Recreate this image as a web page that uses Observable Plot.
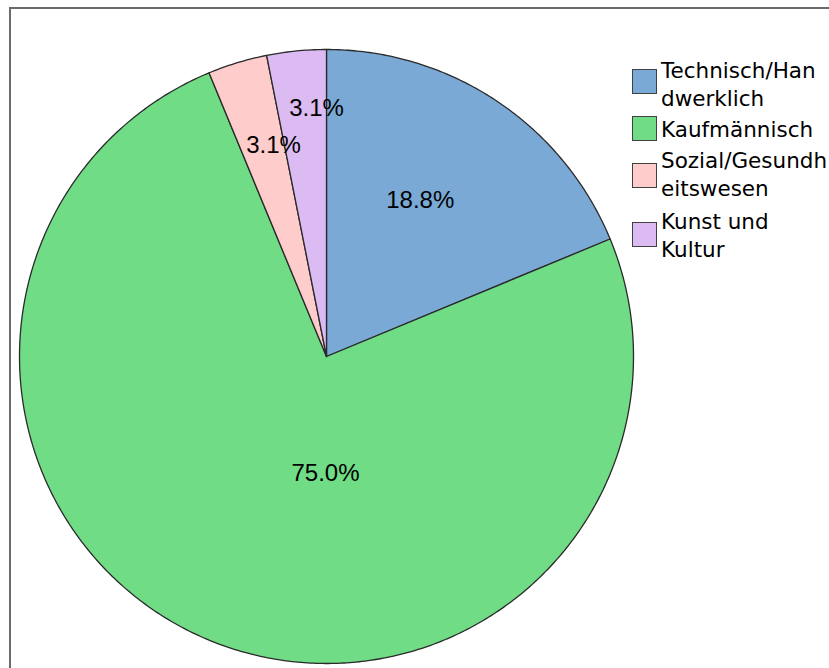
<!DOCTYPE html>
<html>
<head>
<meta charset="utf-8">
<script src="https://cdn.jsdelivr.net/npm/d3@7"></script>
<script src="https://cdn.jsdelivr.net/npm/@observablehq/plot@0.6"></script>
<style>
  html, body { margin: 0; padding: 0; background: #fff; }
  #wrap { position: relative; width: 829px; height: 668px; overflow: hidden; }
  #frame { position: absolute; left: 9px; top: 7px; right: -10px; bottom: -10px;
           border-top: 2px solid #6b6b6b; border-left: 2px solid #6b6b6b; pointer-events: none; }
  #chart { position: absolute; left: 0; top: 0; }
  .leg-sq { position: absolute; left: 632px; width: 23px; height: 23px; border: 1px solid #404040; box-sizing: content-box; }
  .leg-tx { position: absolute; left: 661px; font-family: "DejaVu Sans", sans-serif; font-size: 21.5px; line-height: 28px; color: #000; white-space: nowrap; }
</style>
</head>
<body>
<div id="wrap">
  <div id="chart"></div>
  <div id="frame"></div>
</div>
<script>
// ---- data ----
const categories = ["Technisch/Handwerklich", "Kaufmännisch", "Sozial/Gesundheitswesen", "Kunst und Kultur"];
const counts = [6, 24, 1, 1];
const percentLabels = ["18.8%", "75.0%", "3.1%", "3.1%"];
const legendLines = [["Technisch/Han", "dwerklich"], ["Kaufmännisch"], ["Sozial/Gesundh", "eitswesen"], ["Kunst und", "Kultur"]];
const colors = ["#7aa9d6", "#70dc86", "#ffcccc", "#dcbaf2"];

// ---- layout (code, not data) ----
const cx = 326, cy = 356, R = 307;
// label placement in polar terms (degrees clockwise from top, fraction of radius)
const labelPolar = [[31, 0.593], [180.5, 0.381], [345.9, 0.709], [357.7, 0.809]];

const total = d3.sum(counts);
const pie = d3.pie().sort(null).value(d => d)(counts);

// slice outlines, sampled along the arc
const outline = [];
pie.forEach((s, i) => {
  outline.push({cat: categories[i], x: 0, y: 0});
  const n = Math.max(4, Math.ceil((s.endAngle - s.startAngle) / 0.01));
  for (let k = 0; k <= n; k++) {
    const a = s.startAngle + (s.endAngle - s.startAngle) * k / n;
    outline.push({cat: categories[i], x: Math.sin(a), y: Math.cos(a)});
  }
});

const labels = percentLabels.map((t, i) => {
  const a = labelPolar[i][0] * Math.PI / 180, r = labelPolar[i][1];
  return {text: t, x: r * Math.sin(a), y: r * Math.cos(a)};
});

const chart = Plot.plot({
  width: 829,
  height: 668,
  margin: 0,
  x: {domain: [-1, 1], range: [cx - R, cx + R], axis: null},
  y: {domain: [-1, 1], range: [cy + R, cy - R], axis: null},
  color: {domain: categories, range: colors},
  marks: [
    Plot.line(outline, {x: "x", y: "y", z: "cat", fill: "cat", stroke: "#2a2a2a", strokeWidth: 1.3, curve: "linear-closed", strokeLinejoin: "round"}),
    Plot.text(labels, {x: "x", y: "y", text: "text", fill: "#000", fontSize: 24, fontFamily: "Liberation Sans, Arial, sans-serif", textAnchor: "middle", lineAnchor: "middle"})
  ]
});
document.getElementById("chart").appendChild(chart);

// legend
const wrap = document.getElementById("wrap");
const sqTops = [69, 116, 163, 222];
const txTops = [57, 116, 147, 208];
categories.forEach((c, i) => {
  const sq = document.createElement("div");
  sq.className = "leg-sq";
  sq.style.top = sqTops[i] + "px";
  sq.style.background = colors[i];
  wrap.appendChild(sq);
  const tx = document.createElement("div");
  tx.className = "leg-tx";
  tx.style.top = txTops[i] + "px";
  tx.innerHTML = legendLines[i].join("<br>");
  wrap.appendChild(tx);
});
</script>
</body>
</html>
